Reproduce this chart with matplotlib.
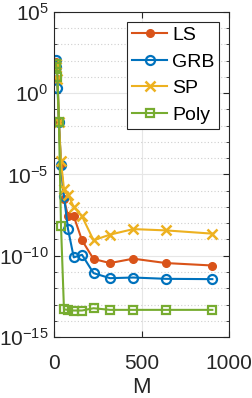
import numpy as np
import matplotlib
matplotlib.use("Agg")
import matplotlib.pyplot as plt
from matplotlib.ticker import FixedLocator, NullFormatter

plt.rcParams['font.family'] = ['Liberation Sans', 'DejaVu Sans']
plt.rcParams['mathtext.fontset'] = 'custom'
plt.rcParams['mathtext.rm'] = 'Liberation Sans'
plt.rcParams['mathtext.it'] = 'Liberation Sans'
plt.rcParams['mathtext.default'] = 'regular'

M = [10, 14, 20, 28, 40, 57, 80, 113, 160, 226, 320, 453, 640, 905]
ls_log = [1.9, 1.6, 0.9, -1.8, -4.4, -6.5, -7.57, -7.57, -9.05, -10.2, -10.45, -10.18, -10.45, -10.6]
grb_log = [2.05, 1.6, 0.35, -1.8, -4.4, -6.34, -8.36, -10.1, -9.94, -11.07, -11.38, -11.34, -11.42, -11.44]
sp_log = [1.8, 1.6, 0.9, -1.8, -4.2, -5.9, -6.24, -7.0, -7.57, -9.05, -8.7, -8.36, -8.44, -8.64]
poly_log = [1.8, 1.6, 1.0, -1.77, -8.15, -13.3, -13.33, -13.37, -13.37, -13.23, -13.33, -13.33, -13.33, -13.33]

series = ['LS', 'GRB', 'SP', 'Poly']
colors = ['#D95319', '#0072BD', '#EDB120', '#77AC30']

fig = plt.figure(figsize=(2.53, 3.98), dpi=100)
ax = fig.add_axes([54/253, 61/398, 175/253, 325/398])

lw = 1.5
ms = 6
ax.semilogy(M, 10**np.array(ls_log), '-o', color=colors[0], mfc=colors[0], lw=lw, ms=ms-0.5, label=series[0])
ax.semilogy(M, 10**np.array(grb_log), '-o', color=colors[1], mfc='none', mew=1.6, lw=lw, ms=ms+0.5, label=series[1])
ax.semilogy(M, 10**np.array(sp_log), '-x', color=colors[2], mew=1.8, lw=lw, ms=ms+0.5, label=series[2])
ax.semilogy(M, 10**np.array(poly_log), '-s', color=colors[3], mfc='none', mew=1.6, lw=lw, ms=ms, label=series[3])

ax.set_xlim(0, 1000)
ax.set_ylim(1e-15, 1e5)
ax.xaxis.set_major_locator(FixedLocator([0, 500, 1000]))
ax.yaxis.set_major_locator(FixedLocator([1e-15, 1e-10, 1e-5, 1e0, 1e5]))
ax.yaxis.set_minor_locator(FixedLocator([10.0**k for k in range(-15, 6) if k % 5 != 0]))
ax.yaxis.set_minor_formatter(NullFormatter())

edge = '#262626'
for s in ax.spines.values():
    s.set_color(edge)
    s.set_linewidth(0.8)
ax.tick_params(which='both', direction='in', top=True, right=True, colors=edge, labelsize=15)
ax.tick_params(which='major', length=4)
ax.tick_params(which='minor', length=2.5)
ax.tick_params(axis='x', which='major', pad=12)
ax.tick_params(axis='y', which='major', pad=4)

ax.grid(True, which='major', color='#e6e6e6', lw=0.8, ls='-')
ax.grid(True, which='minor', axis='y', color='#cfcfcf', lw=0.8, ls=(0, (1, 2)))
ax.set_axisbelow(True)

ax.set_xlabel('M', fontsize=16, color=edge, labelpad=3)

leg = ax.legend(loc='upper right', fontsize=14, frameon=True, fancybox=False,
                edgecolor=edge, framealpha=1, handlelength=1.8, borderpad=0.25,
                labelspacing=0.46, handletextpad=0.25, borderaxespad=0.5)
leg.get_frame().set_linewidth(0.8)

fig.savefig('out.png', dpi=100)
